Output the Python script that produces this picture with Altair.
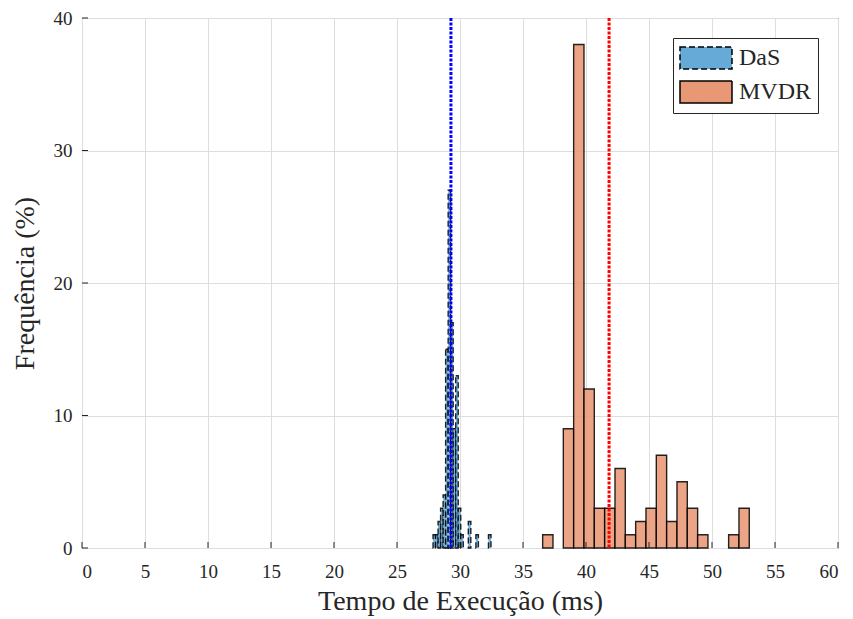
import altair as alt
import pandas as pd

# DaS histogram (bin edges in ms, frequency in %)
das_left = [27.86, 28.06, 28.26, 28.46, 28.66, 28.86, 29.06, 29.26, 29.46, 29.66, 29.86, 30.06,
            30.66, 31.26, 32.26]
das_right = [28.06, 28.26, 28.46, 28.66, 28.86, 29.06, 29.26, 29.46, 29.66, 29.86, 30.06, 30.26,
             30.86, 31.46, 32.46]
das_freq = [1, 1, 2, 3, 4, 15, 27, 17, 9, 13, 3, 1, 2, 1, 1]

# MVDR histogram
mvdr_left = [36.56, 38.20, 39.02, 39.84, 40.66, 41.48, 42.30, 43.12, 43.94, 44.76, 45.58,
             46.40, 47.22, 48.04, 48.86, 51.32, 52.14]
mvdr_right = [37.38, 39.02, 39.84, 40.66, 41.48, 42.30, 43.12, 43.94, 44.76, 45.58, 46.40,
              47.22, 48.04, 48.86, 49.68, 52.14, 52.96]
mvdr_freq = [1, 9, 38, 12, 3, 3, 6, 1, 2, 3, 7, 2, 5, 3, 1, 1, 3]

methods = ["DaS", "MVDR"]
means = [29.28, 41.83]
mean_colors = ["#0000FF", "#FF0000"]

x_ticks = [0, 5, 10, 15, 20, 25, 30, 35, 40, 45, 50, 55, 60]
y_ticks = [0, 10, 20, 30, 40]

bars = pd.concat([
    pd.DataFrame({"method": "DaS", "x0": das_left, "x1": das_right, "freq": das_freq}),
    pd.DataFrame({"method": "MVDR", "x0": mvdr_left, "x1": mvdr_right, "freq": mvdr_freq}),
], ignore_index=True)
mean_df = pd.DataFrame({"method": methods, "mean": means, "color": mean_colors})
xt_df = pd.DataFrame({"v": x_ticks})
yt_df = pd.DataFrame({"v": y_ticks})

W, H = 756, 530
FONT = "Liberation Serif"

xscale = alt.Scale(domain=[0, 60], nice=False, zero=False)
yscale = alt.Scale(domain=[0, 40], nice=False)

leg = alt.Legend(title=None, orient="top-right", offset=20)

hist = alt.Chart(bars).mark_bar(strokeWidth=1.4, strokeOpacity=0.85, fillOpacity=0.88).encode(
    x=alt.X("x0:Q", scale=xscale,
            axis=alt.Axis(values=x_ticks, title="Tempo de Execução (ms)", format="d")),
    x2="x1:Q",
    y=alt.Y("freq:Q", scale=yscale,
            axis=alt.Axis(values=y_ticks, title="Frequência (%)", format="d")),
    y2=alt.datum(0),
    fill=alt.Fill("method:N", scale=alt.Scale(domain=methods, range=["#66AAD7", "#E89875"]),
                  legend=leg),
    stroke=alt.Stroke("method:N", scale=alt.Scale(domain=methods, range=["black", "black"]),
                      legend=leg),
    strokeDash=alt.StrokeDash("method:N",
                              scale=alt.Scale(domain=methods, range=[[6, 3], [1, 0]]),
                              legend=leg),
)

mean_rules = alt.Chart(mean_df).mark_rule(strokeWidth=3, strokeDash=[3, 1.5]).encode(
    x=alt.X("mean:Q", scale=xscale),
    color=alt.Color("color:N", scale=None, legend=None),
)

xticks_marks = alt.Chart(xt_df).mark_rule(color="#262626", strokeWidth=1).encode(
    x=alt.X("v:Q", scale=xscale), y=alt.value(H), y2=alt.value(H - 6))
yticks_marks = alt.Chart(yt_df).mark_rule(color="#262626", strokeWidth=1).encode(
    y=alt.Y("v:Q", scale=yscale), x=alt.value(0), x2=alt.value(6))

chart = alt.layer(hist, mean_rules, xticks_marks, yticks_marks).properties(
    width=W, height=H,
    autosize=alt.AutoSizeParams(type="none"),
    padding={"left": 82, "top": 18, "right": 15, "bottom": 71},
    background="white",
).configure_view(
    stroke="#262626", strokeWidth=1
).configure_axis(
    labelFont=FONT, labelFontSize=19, labelColor="#262626",
    titleFont=FONT, titleFontSize=28, titleFontWeight="normal", titleColor="#262626",
    grid=True, gridColor="#dedede", gridWidth=1,
    domain=False, ticks=False,
).configure_axisX(
    labelPadding=14, titlePadding=6,
).configure_axisY(
    labelPadding=10, titlePadding=14,
).configure_legend(
    labelFont=FONT, labelFontSize=24, labelColor="#262626",
    symbolType="M-2,-0.85H2V0.85H-2Z", symbolSize=676, symbolOffset=13,
    symbolStrokeWidth=1.5,
    strokeColor="#262626", fillColor="white", padding=6, rowPadding=4,
    labelOffset=19, cornerRadius=0,
)

chart.save("out.html", embed_options={"renderer": "svg", "actions": False})
